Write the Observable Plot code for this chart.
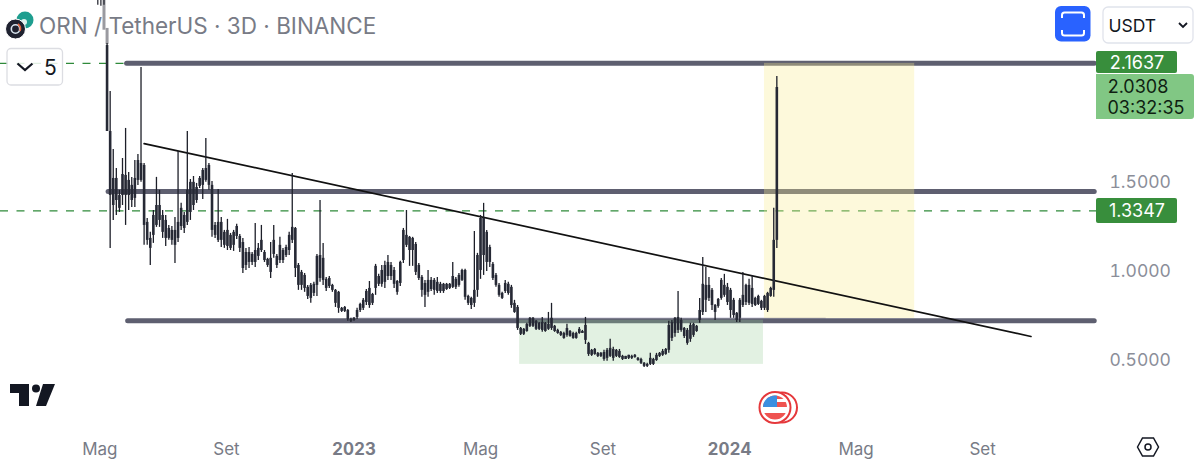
<!DOCTYPE html>
<html>
<head>
<meta charset="utf-8">
<script src="https://cdn.jsdelivr.net/npm/d3@7"></script>
<script src="https://cdn.jsdelivr.net/npm/@observablehq/plot@0.6"></script>
<style>
html,body{margin:0;padding:0;background:#fff;overflow:hidden}
#wrap{position:relative;width:1200px;height:462px;font-family:Inter,"Noto Sans",sans-serif}
#wrap svg{display:block}
#over{position:absolute;left:0;top:0;pointer-events:none}
</style>
</head>
<body>
<div id="wrap"></div>
<script>
// 3-day candles, first bar date and values
const firstBar = "2022-05-06";
const highs = [
2.275,2.006,1.680,1.573,1.450,1.629,1.798,1.551,1.523,1.618,
1.652,2.141,1.601,1.292,1.214,1.337,1.523,1.450,1.337,1.309,
1.253,1.247,1.298,1.669,1.377,1.326,1.781,1.511,1.528,1.489,
1.528,1.573,1.742,1.601,1.500,1.270,1.455,1.298,1.225,1.287,
1.208,1.225,1.259,1.202,1.180,1.124,1.129,1.101,1.264,1.152,
1.253,1.112,1.068,1.157,1.253,1.090,1.186,1.124,1.141,1.214,
1.545,1.242,1.039,1.000,.983,.916,.927,.933,1.090,1.393,
1.152,.961,.966,.922,.893,.882,.792,.798,.781,.731,
.736,.787,.815,.843,.893,.938,.871,1.034,.978,1.028,
1.051,1.084,1.045,1.017,.944,1.051,1.236,1.337,1.191,1.186,
1.157,1.039,.972,.944,1.000,.961,.955,.961,.933,.927,
.927,.927,1.045,.961,.983,1.006,1.006,.860,.849,1.219,
1.096,1.309,1.377,1.225,1.141,1.045,.983,.927,.877,.944,
.933,.916,.832,.803,.680,.674,.703,.736,.736,.719,
.708,.736,.708,.764,.815,.691,.669,.657,.652,.697,
.663,.652,.652,.680,.663,.736,.596,.556,.562,.539,
.539,.551,.562,.613,.568,.556,.556,.523,.517,.523,
.523,.528,.511,.506,.483,.478,.534,.506,.534,.539,
.556,.562,.714,.719,.736,.882,.731,.680,.674,.703,
.703,.691,.843,1.073,1.017,.961,.899,.809,.843,.955,
.978,.927,.899,.843,.764,.843,.989,.922,.950,.972,
.849,.860,.832,.860,.877,.905,1.349,2.090];
const lows = [
1.781,1.124,1.281,1.309,1.326,1.365,1.253,1.337,1.354,1.354,
1.478,1.495,1.141,1.141,1.028,1.152,1.242,1.242,1.180,1.135,
1.169,1.141,1.039,1.157,1.225,1.208,1.253,1.281,1.337,1.377,
1.461,1.399,1.495,1.450,1.186,1.180,1.157,1.129,1.124,1.112,
1.112,1.107,1.174,1.101,.983,1.000,1.011,1.028,1.017,1.056,
1.101,1.045,1.017,.955,1.068,1.011,1.039,1.039,1.073,1.084,
1.152,.961,.888,.888,.877,.837,.815,.854,.854,.933,
.916,.882,.899,.877,.792,.759,.764,.764,.714,.708,
.714,.725,.764,.775,.803,.787,.803,.860,.910,.905,
.899,.944,.944,.899,.860,.910,1.039,1.129,1.023,1.023,
.972,.944,.849,.792,.849,.882,.860,.871,.871,.871,
.888,.893,.899,.893,.905,.938,.832,.803,.781,.792,
.849,.950,.972,.994,1.017,.944,.905,.849,.837,.871,
.860,.787,.759,.663,.635,.635,.652,.680,.680,.663,
.663,.652,.652,.663,.663,.652,.641,.629,.613,.624,
.624,.613,.613,.641,.646,.584,.517,.517,.523,.511,
.511,.489,.489,.511,.489,.511,.506,.494,.500,.500,
.500,.506,.489,.472,.455,.455,.466,.466,.489,.511,
.517,.523,.534,.601,.624,.646,.652,.618,.579,.596,
.624,.652,.703,.747,.764,.826,.775,.719,.787,.832,
.849,.803,.731,.731,.708,.708,.792,.803,.803,.792,
.798,.803,.775,.775,.764,.849,.849,1.124];
const bodyHigh = [
2.264,1.781,1.517,1.517,1.421,1.539,1.534,1.506,1.478,1.517,
1.618,1.601,1.590,1.270,1.180,1.309,1.365,1.365,1.309,1.281,
1.236,1.225,1.225,1.270,1.349,1.309,1.450,1.495,1.495,1.466,
1.517,1.562,1.573,1.590,1.478,1.253,1.270,1.270,1.214,1.225,
1.197,1.214,1.247,1.191,1.157,1.101,1.101,1.090,1.112,1.124,
1.169,1.101,1.062,1.068,1.169,1.079,1.141,1.112,1.129,1.197,
1.242,1.236,1.028,.989,.972,.905,.916,.922,1.079,1.084,
1.068,.950,.955,.916,.888,.877,.787,.792,.775,.725,
.731,.775,.809,.832,.882,.899,.865,1.023,.966,1.000,
1.028,1.045,1.028,1.000,.938,1.045,1.225,1.197,1.186,1.180,
1.146,1.028,.961,.927,.944,.944,.944,.933,.922,.922,
.922,.922,.966,.950,.972,1.000,1.000,.854,.843,.888,
1.084,1.292,1.292,1.214,1.129,1.034,.972,.916,.871,.927,
.922,.905,.815,.792,.674,.669,.697,.731,.731,.714,
.703,.708,.703,.697,.731,.686,.663,.652,.646,.674,
.657,.646,.646,.669,.657,.691,.590,.551,.556,.534,
.534,.539,.551,.562,.556,.551,.545,.517,.517,.523,
.517,.523,.506,.500,.478,.472,.506,.500,.523,.534,
.545,.556,.691,.708,.731,.736,.719,.674,.663,.691,
.697,.686,.775,.922,.916,.916,.888,.803,.837,.944,
.916,.905,.888,.832,.759,.832,.860,.916,.916,.899,
.843,.854,.826,.854,.871,.899,1.169,2.028];
const bodyLow = [
1.781,1.421,1.365,1.393,1.349,1.421,1.421,1.421,1.393,1.405,
1.506,1.506,1.253,1.169,1.124,1.197,1.253,1.281,1.214,1.180,
1.180,1.169,1.141,1.180,1.247,1.236,1.270,1.326,1.365,1.393,
1.472,1.478,1.506,1.478,1.225,1.197,1.169,1.169,1.141,1.135,
1.124,1.141,1.191,1.124,1.011,1.028,1.045,1.045,1.045,1.079,
1.112,1.056,1.028,.989,1.090,1.028,1.056,1.056,1.084,1.112,
1.169,1.011,.916,.916,.899,.854,.843,.871,.916,.955,
.944,.899,.910,.888,.815,.787,.770,.770,.725,.714,
.719,.736,.775,.787,.820,.803,.815,.899,.922,.922,
.933,.966,.966,.922,.877,.927,1.056,1.141,1.112,1.112,
.989,.955,.888,.860,.877,.893,.888,.882,.882,.882,
.893,.899,.905,.905,.916,.944,.849,.815,.803,.815,
.888,1.000,1.084,1.045,1.045,.955,.916,.860,.843,.882,
.871,.803,.764,.674,.641,.641,.657,.686,.686,.669,
.669,.663,.657,.669,.674,.657,.646,.635,.618,.635,
.629,.618,.618,.646,.646,.607,.528,.523,.528,.517,
.517,.500,.506,.517,.506,.517,.511,.500,.500,.506,
.506,.511,.494,.478,.461,.461,.472,.472,.494,.517,
.523,.528,.551,.618,.646,.663,.663,.629,.590,.613,
.635,.657,.719,.764,.832,.843,.803,.764,.798,.843,
.860,.820,.775,.747,.719,.731,.803,.820,.815,.809,
.803,.809,.787,.787,.775,.854,.888,1.169];

// opening spike, pale grey where it passes behind the title
const spikeDates = ["2022-05-03","2022-05-06"];
const spikeHigh = [2.517,2.36];
const spikeLow = [2.35,2.27];
const tuftDates = ["2022-04-27","2022-04-30","2022-05-03"];
const tuftHigh = [2.517,2.517,2.517];
const tuftLow = [2.49,2.485,2.49];

// drawn levels
const levelTop = 2.1637, levelMid = 1.444, levelLow = 0.7175, levelHaze = 0.731;
const alertHigh = 2.1637, alertLow = 1.3347;
const lastPrice = 2.0308;
const topStart = "2022-05-25", midStart = "2022-05-07", lowStart = "2022-05-26";
const hazeStart = "2022-12-29", hazeEnd = "2024-04-04";
const trendDates = ["2022-06-11","2024-10-20"];
const trendPrices = [1.713,0.629];
const greenBox = {x1:"2023-06-11",x2:"2024-02-03",y1:0.472,y2:0.72};
const yellowBox = {x1:"2024-02-04",x2:"2024-06-29",y1:0.73,y2:2.1637};

// axes
const monthTicks = ["2022-04-29","2022-08-30","2023-05-04","2023-08-31","2024-05-03","2024-09-03"];
const monthLabels = ["Mag","Set","Mag","Set","Mag","Set"];
const yearTicks = ["2023-01-01","2024-01-01"];
const yearLabels = ["2023","2024"];
const priceTicks = [0.5,1,1.5];

const D = s => new Date(s + "T00:00Z");
const start = D(firstBar);
const candles = highs.map((h,i)=>({
  date: d3.utcDay.offset(start,3*i), high:h, low:lows[i], bodyHigh:bodyHigh[i], bodyLow:bodyLow[i]
}));
const spike = spikeDates.map((d,i)=>({date:D(d),high:spikeHigh[i],low:spikeLow[i]}));
const tuft = tuftDates.map((d,i)=>({date:D(d),high:tuftHigh[i],low:tuftLow[i]}));
const xEnd = new Date("2024-12-22T17:00Z");
const lineEnd = new Date("2024-12-20T12:00Z");
const line = (a,p)=>[{x:D(a),y:p},{x:lineEnd,y:p}];
const gray = "#5e5f70";

const chart = Plot.plot({
  width:1200, height:462,
  marginLeft:0, marginRight:104, marginTop:0, marginBottom:82,
  style:{background:"#fff",fontFamily:"Inter, 'Noto Sans', sans-serif",overflow:"hidden"},
  x:{type:"utc",domain:[new Date("2022-01-22T10:00Z"),xEnd],axis:null},
  y:{domain:[0.3815,2.517],axis:null},
  marks:[
    Plot.ruleY([alertHigh,alertLow],{stroke:"#2f8a3a",strokeWidth:1.2,strokeDasharray:"8,8.5"}),
    Plot.line(line(topStart,levelTop),{x:"x",y:"y",stroke:gray,strokeWidth:5,strokeLinecap:"round"}),
    Plot.line(line(midStart,levelMid),{x:"x",y:"y",stroke:gray,strokeWidth:5,strokeLinecap:"round"}),
    Plot.ruleY([levelHaze],{x1:D(hazeStart),x2:D(hazeEnd),stroke:"#dcdbe6",strokeWidth:2}),
    Plot.line(line(lowStart,levelLow),{x:"x",y:"y",stroke:gray,strokeWidth:5,strokeLinecap:"round"}),
    Plot.rectY([yellowBox],{x1:d=>D(d.x1),x2:d=>D(d.x2),y1:"y1",y2:"y2",fill:"rgb(249,236,144)",fillOpacity:0.32}),
    Plot.rectY([greenBox],{x1:d=>D(d.x1),x2:d=>D(d.x2),y1:"y1",y2:"y2",fill:"rgb(150,205,150)",fillOpacity:0.28}),
    Plot.line(trendDates.map((d,i)=>({x:D(d),y:trendPrices[i]})),{x:"x",y:"y",stroke:"#111",strokeWidth:1.7}),
    Plot.ruleX(spike,{x:"date",y1:"low",y2:"high",stroke:"#9a9aa0",strokeWidth:3}),
    Plot.ruleX(tuft,{x:"date",y1:"low",y2:"high",stroke:"#1d1f29",strokeWidth:1.2}),
    Plot.ruleX(candles,{x:"date",y1:"low",y2:"high",stroke:"#1d1f29",strokeWidth:1.3}),
    Plot.ruleX(candles,{x:"date",y1:"bodyLow",y2:"bodyHigh",stroke:"#262935",strokeWidth:2.6}),
    Plot.axisX({ticks:monthTicks.map(D),tickFormat:d=>monthLabels[monthTicks.indexOf(d.toISOString().slice(0,10))],
      tickSize:0,tickPadding:62,fontSize:17,color:"#787b86"}),
    Plot.axisX({ticks:yearTicks.map(D),tickFormat:d=>yearLabels[yearTicks.indexOf(d.toISOString().slice(0,10))],
      tickSize:0,tickPadding:62,fontSize:17,fontWeight:700,color:"#787b86"}),
    Plot.axisY({anchor:"right",ticks:priceTicks,tickFormat:d=>d.toFixed(4),tickSize:0,tickPadding:13,fontSize:17.5,dy:1,color:"#8b8e99",label:null})
  ]
});
document.getElementById("wrap").appendChild(chart);

const ink = "#131722";
document.getElementById("wrap").insertAdjacentHTML("beforeend",`
<svg id="over" width="1200" height="462" viewBox="0 0 1200 462" font-family="Inter, 'Noto Sans', sans-serif">
  <circle cx="25" cy="20" r="8.5" fill="#1e9e8f"/><circle cx="24" cy="22" r="3" fill="#dff3ef"/>
  <circle cx="15.5" cy="29" r="10" fill="#1f2230" stroke="#fff" stroke-width="1"/>
  <circle cx="15.5" cy="29" r="4.2" fill="none" stroke="#d8e4ee" stroke-width="1.6"/>
  <path d="M18 24a6 6 0 0 1 2 7" fill="none" stroke="#e0623a" stroke-width="1.6"/>
  <text x="39" y="34" font-size="22.5" fill="#787b86">ORN / TetherUS · 3D · BINANCE</text>
  <rect x="7" y="48.5" width="55.5" height="36.5" rx="4" fill="#fff" fill-opacity="0.85" stroke="#dcdde2" stroke-width="1.3"/>
  <path d="M17.5 63.5l7.5 6.5 7.5-6.5" fill="none" stroke="${ink}" stroke-width="2.3"/>
  <text x="44" y="75" font-size="21" fill="${ink}">5</text>

  <rect x="1055" y="6" width="35.5" height="35.5" rx="6" fill="#2962ff"/>
  <path d="M1062 18v-3a2.5 2.5 0 0 1 2.5-2.5h17a2.5 2.5 0 0 1 2.5 2.5v3M1062 30v3a2.5 2.5 0 0 0 2.5 2.5h17a2.5 2.5 0 0 0 2.5-2.5v-3" fill="none" stroke="#fff" stroke-width="2"/>
  <rect x="1103" y="7" width="90" height="36" rx="5" fill="#fff" stroke="#e0e3eb" stroke-width="1.3"/>
  <text x="1108.5" y="32" font-size="17.5" fill="${ink}">USDT</text>
  <path d="M1179 23l4 4 4-4" fill="none" stroke="${ink}" stroke-width="1.8"/>

  <rect x="1096" y="51" width="81" height="22" rx="2" fill="#388e3c"/>
  <text x="1137" y="68.5" text-anchor="middle" font-size="18" fill="#fff">${alertHigh.toFixed(4)}</text>
  <path d="M1096 74h95a3 3 0 0 1 3 3v39a3 3 0 0 1-3 3h-95z" fill="#81c784"/>
  <text x="1138" y="93" text-anchor="middle" font-size="18" fill="#0f1f12">${lastPrice.toFixed(4)}</text>
  <text x="1146" y="114" text-anchor="middle" font-size="18" fill="#0f1f12">03:32:35</text>
  <rect x="1096" y="198" width="81" height="25" rx="2" fill="#388e3c"/>
  <text x="1137" y="217" text-anchor="middle" font-size="18" fill="#fff">${alertLow.toFixed(4)}</text>

  <path d="M10 384h19v22h-10v-13h-9z" fill="${ink}"/><circle cx="36" cy="388.5" r="4" fill="${ink}"/>
  <path d="M43 384h12l-9 22h-10z" fill="${ink}"/>

  <circle cx="782" cy="407.5" r="15" fill="#fff" stroke="#e5383b" stroke-width="2"/>
  <circle cx="775" cy="407.5" r="15.5" fill="#fff" stroke="#e5383b" stroke-width="2"/>
  <clipPath id="fl"><circle cx="775" cy="407.5" r="12"/></clipPath>
  <g clip-path="url(#fl)">
    <rect x="762" y="395" width="26" height="4" fill="#ef5350"/>
    <rect x="762" y="402" width="26" height="5" fill="#ef5350"/>
    <rect x="762" y="413" width="26" height="7" fill="#ef5350"/>
    <rect x="762" y="395" width="15" height="12" fill="#3b8fe0"/>
  </g>
  <path d="M1137.5 447l5-9h11l5 9-5 9h-11z" fill="none" stroke="${ink}" stroke-width="1.5"/>
  <circle cx="1148" cy="447" r="3" fill="none" stroke="${ink}" stroke-width="1.5"/>
</svg>`);
</script>
</body>
</html>
